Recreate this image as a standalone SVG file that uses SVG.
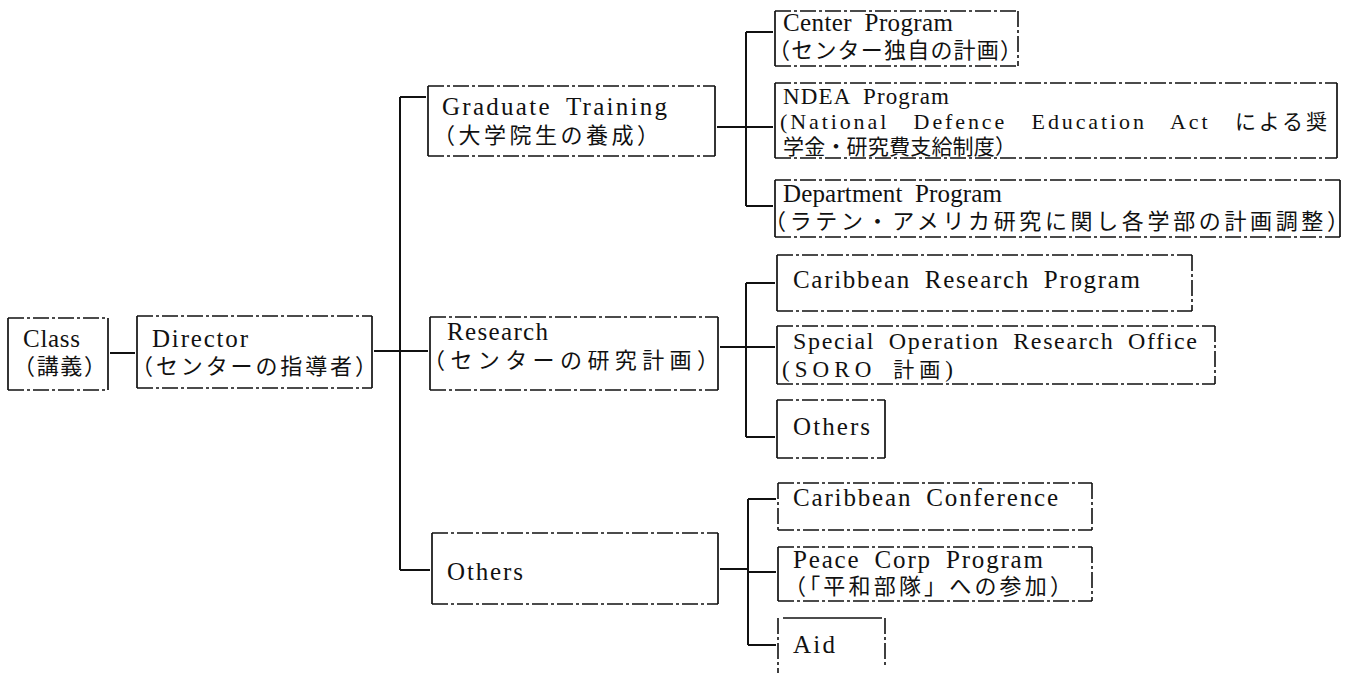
<svg xmlns="http://www.w3.org/2000/svg" width="1349" height="673" viewBox="0 0 1349 673">
<style>
  .s { stroke: #111; stroke-width: 1.7; fill: none; }
  .d { stroke: #111; stroke-width: 1.6; fill: none; stroke-dasharray: 16 3 3 3; }
  .c { stroke: #111; stroke-width: 2; fill: none; }
  .en { font-family: "Liberation Serif", "Noto Sans CJK JP", serif; font-size: 25px; fill: #111; word-spacing: 6px; }
  .jp { font-family: "Liberation Serif", "Noto Sans CJK JP", serif; font-size: 22px; fill: #111; }
  .k { font-family: "Noto Sans CJK JP", sans-serif; font-size: 21px; }
</style>
<rect x="0" y="0" width="1349" height="673" fill="#ffffff"/>

<g id="connectors">
  <line class="c" x1="110" y1="353" x2="135" y2="353"/>
  <line class="c" x1="374" y1="351" x2="400" y2="351"/>
  <line class="c" x1="400" y1="97" x2="400" y2="570"/>
  <line class="c" x1="400" y1="97" x2="426" y2="97"/>
  <line class="c" x1="400" y1="351" x2="428" y2="351"/>
  <line class="c" x1="400" y1="570" x2="430" y2="570"/>
  <line class="c" x1="717" y1="127" x2="746" y2="127"/>
  <line class="c" x1="746" y1="32" x2="746" y2="206"/>
  <line class="c" x1="746" y1="32" x2="773" y2="32"/>
  <line class="c" x1="746" y1="127" x2="773" y2="127"/>
  <line class="c" x1="746" y1="206" x2="773" y2="206"/>
  <line class="c" x1="720" y1="347" x2="746" y2="347"/>
  <line class="c" x1="746" y1="283" x2="746" y2="437"/>
  <line class="c" x1="746" y1="283" x2="775" y2="283"/>
  <line class="c" x1="746" y1="347" x2="775" y2="347"/>
  <line class="c" x1="746" y1="437" x2="775" y2="437"/>
  <line class="c" x1="720" y1="569" x2="748" y2="569"/>
  <line class="c" x1="748" y1="499" x2="748" y2="645"/>
  <line class="c" x1="748" y1="499" x2="776" y2="499"/>
  <line class="c" x1="748" y1="572" x2="776" y2="572"/>
  <line class="c" x1="748" y1="645" x2="776" y2="645"/>
</g>

<g id="class">
  <line class="s" x1="8" y1="318" x2="8" y2="390"/>
  <line class="s" x1="108" y1="318" x2="108" y2="390"/>
  <line class="d" x1="8" y1="318" x2="108" y2="318"/>
  <line class="d" x1="8" y1="390" x2="108" y2="390"/>
  <text class="en" x="23" y="347" textLength="57" lengthAdjust="spacing">Class</text>
  <text class="jp" x="13" y="374" textLength="93" lengthAdjust="spacing">（講義）</text>
</g>

<g id="director">
  <line class="s" x1="137" y1="316" x2="137" y2="388"/>
  <line class="s" x1="372" y1="316" x2="372" y2="388"/>
  <line class="d" x1="137" y1="316" x2="372" y2="316"/>
  <line class="d" x1="137" y1="388" x2="372" y2="388"/>
  <text class="en" x="152" y="347" textLength="96" lengthAdjust="spacing">Director</text>
  <text class="jp" x="131" y="374" textLength="246" lengthAdjust="spacing">（センターの指導者）</text>
</g>

<g id="graduate">
  <line class="s" x1="428" y1="86" x2="428" y2="156"/>
  <line class="s" x1="715" y1="86" x2="715" y2="156"/>
  <line class="d" x1="428" y1="86" x2="715" y2="86"/>
  <line class="d" x1="428" y1="156" x2="715" y2="156"/>
  <text class="en" x="442" y="115" textLength="225" lengthAdjust="spacing">Graduate Training</text>
  <text class="jp" x="433" y="143" textLength="226" lengthAdjust="spacing">（大学院生の養成）</text>
</g>

<g id="research">
  <line class="s" x1="430" y1="317" x2="430" y2="390"/>
  <line class="s" x1="718" y1="317" x2="718" y2="390"/>
  <line class="d" x1="430" y1="317" x2="718" y2="317"/>
  <line class="d" x1="430" y1="390" x2="718" y2="390"/>
  <text class="en" x="447" y="340" textLength="101" lengthAdjust="spacing">Research</text>
  <text class="jp" x="423" y="368" textLength="296" lengthAdjust="spacing">（センターの研究計画）</text>
</g>

<g id="others-main">
  <line class="s" x1="432" y1="533" x2="432" y2="604"/>
  <line class="s" x1="718" y1="533" x2="718" y2="604"/>
  <line class="d" x1="432" y1="533" x2="718" y2="533"/>
  <line class="d" x1="432" y1="604" x2="718" y2="604"/>
  <text class="en" x="447" y="580" textLength="76" lengthAdjust="spacing">Others</text>
</g>

<g id="center-program">
  <line class="s" x1="775" y1="11" x2="775" y2="66"/>
  <line class="d" x1="1018" y1="11" x2="1018" y2="66"/>
  <line class="d" x1="775" y1="11" x2="1018" y2="11"/>
  <line class="d" x1="775" y1="66" x2="1018" y2="66"/>
  <text class="en" x="783" y="31" textLength="170" lengthAdjust="spacing">Center Program</text>
  <text class="jp" x="768" y="58" textLength="254" lengthAdjust="spacing">（センター独自の計画）</text>
</g>

<g id="ndea-program">
  <line class="s" x1="775" y1="83" x2="775" y2="158"/>
  <line class="s" x1="1337" y1="83" x2="1337" y2="158"/>
  <line class="d" x1="775" y1="83" x2="1337" y2="83"/>
  <line class="d" x1="775" y1="158" x2="1337" y2="158"/>
  <text class="en" x="783" y="104" textLength="166" lengthAdjust="spacing" style="font-size:23px">NDEA Program</text>
  <text class="en" x="780" y="129" textLength="547" lengthAdjust="spacing" style="font-size:22px;word-spacing:16px">(National Defence Education Act <tspan class="k">による奨</tspan></text>
  <text class="jp" x="783" y="154" textLength="233" lengthAdjust="spacing" style="font-size:21px">学金・研究費支給制度）</text>
</g>

<g id="department-program">
  <line class="s" x1="775" y1="180" x2="775" y2="237"/>
  <line class="s" x1="1340" y1="180" x2="1340" y2="237"/>
  <line class="d" x1="775" y1="180" x2="1340" y2="180"/>
  <line class="d" x1="775" y1="237" x2="1340" y2="237"/>
  <text class="en" x="783" y="202" textLength="219" lengthAdjust="spacing">Department Program</text>
  <text class="jp" x="764" y="229" textLength="585" lengthAdjust="spacing">（ラテン・アメリカ研究に関し各学部の計画調整）</text>
</g>

<g id="caribbean-research">
  <line class="s" x1="777" y1="255" x2="777" y2="311"/>
  <line class="d" x1="1192" y1="255" x2="1192" y2="311"/>
  <line class="d" x1="777" y1="255" x2="1192" y2="255"/>
  <line class="d" x1="777" y1="311" x2="1192" y2="311"/>
  <text class="en" x="793" y="288" textLength="347" lengthAdjust="spacing">Caribbean Research Program</text>
</g>

<g id="soro">
  <line class="s" x1="777" y1="326" x2="777" y2="384"/>
  <line class="d" x1="1215" y1="326" x2="1215" y2="384"/>
  <line class="d" x1="777" y1="326" x2="1215" y2="326"/>
  <line class="d" x1="777" y1="384" x2="1215" y2="384"/>
  <text class="en" x="793" y="349" textLength="404" lengthAdjust="spacing" style="font-size:24px">Special Operation Research Office</text>
  <text class="en" x="782" y="377" textLength="171" lengthAdjust="spacing" style="font-size:23px">(SORO <tspan class="k">計画</tspan>)</text>
</g>

<g id="others-research">
  <line class="s" x1="777" y1="400" x2="777" y2="458"/>
  <line class="s" x1="885" y1="400" x2="885" y2="458"/>
  <line class="d" x1="777" y1="400" x2="885" y2="400"/>
  <line class="d" x1="777" y1="458" x2="885" y2="458"/>
  <text class="en" x="793" y="435" textLength="77" lengthAdjust="spacing">Others</text>
</g>

<g id="caribbean-conference">
  <line class="d" x1="778" y1="483" x2="778" y2="530"/>
  <line class="d" x1="1092" y1="483" x2="1092" y2="530"/>
  <line class="d" x1="778" y1="483" x2="1092" y2="483"/>
  <line class="d" x1="778" y1="530" x2="1092" y2="530"/>
  <text class="en" x="793" y="506" textLength="265" lengthAdjust="spacing">Caribbean Conference</text>
</g>

<g id="peace-corp">
  <line class="s" x1="778" y1="547" x2="778" y2="601"/>
  <line class="d" x1="1092" y1="547" x2="1092" y2="601"/>
  <line class="d" x1="778" y1="547" x2="1092" y2="547"/>
  <line class="d" x1="778" y1="601" x2="1092" y2="601"/>
  <text class="en" x="793" y="568" textLength="250" lengthAdjust="spacing">Peace Corp Program</text>
  <text class="jp" x="784" y="594" textLength="288" lengthAdjust="spacing">（「平和部隊」への参加）</text>
</g>

<g id="aid">
  <line class="d" x1="778" y1="618" x2="778" y2="673"/>
  <line class="d" x1="885" y1="618" x2="885" y2="668"/>
  <line class="s" x1="783" y1="618" x2="882" y2="618"/>
  <text class="en" x="793" y="653" textLength="42" lengthAdjust="spacing">Aid</text>
</g>
</svg>
